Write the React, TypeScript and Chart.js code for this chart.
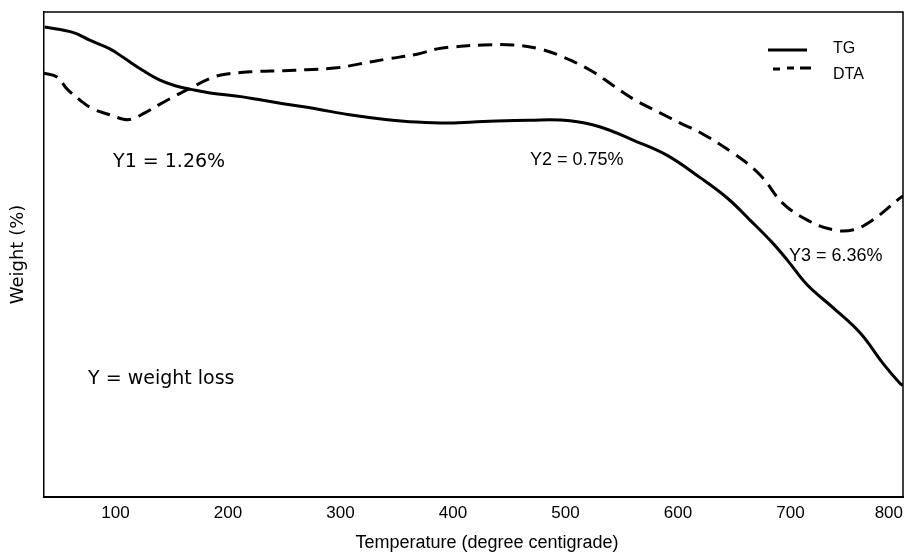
import React, { useEffect, useRef } from "react";
import { Chart, registerables } from "chart.js";

Chart.register(...registerables);

// TG curve (solid): temperature (°C) and relative weight
const tgTemp = [37, 62, 77, 95, 107, 124, 139, 153, 168, 184, 213, 226, 249, 279, 308, 338, 368, 397, 427, 468, 504, 531, 560, 590, 620, 644, 664, 684, 697, 715, 738, 762, 782, 797, 800];
const tgWeight = [96.9, 95.8, 94.2, 92.4, 90.6, 88.0, 86.0, 84.8, 84.0, 83.3, 82.5, 82.0, 81.1, 80.0, 78.8, 77.9, 77.3, 77.1, 77.4, 77.7, 77.6, 76.3, 73.6, 70.5, 65.8, 61.6, 57.1, 52.4, 48.9, 43.7, 39.0, 33.8, 27.6, 23.5, 23.0];

// DTA curve (dashed)
const dtaTemp = [36.5, 48, 57, 68, 80, 95, 107, 114, 126, 138, 153, 168, 184, 196, 222, 249, 270, 297, 317, 341, 368, 386, 400, 427, 453, 477, 498, 522, 542, 560, 584, 602, 620, 649, 673, 693, 715, 738, 756, 773, 795, 800];
const dtaSignal = [87.4, 86.6, 84.1, 81.9, 80.0, 78.8, 77.9, 77.9, 79.2, 80.8, 82.7, 84.5, 86.3, 87.1, 87.7, 87.9, 88.1, 88.5, 89.3, 90.3, 91.3, 92.4, 92.8, 93.2, 93.2, 92.4, 90.7, 88.0, 84.9, 82.1, 79.2, 77.1, 75.1, 70.9, 66.4, 60.6, 57.1, 55.1, 55.1, 57.1, 61.2, 62.1];

const xTicks = [100, 200, 300, 400, 500, 600, 700, 800];
const xMin = 36.4;
const xMax = 800;

const xTitle = "Temperature (degree centigrade)";
const yTitle = "Weight (%)";

const notes = [
  { text: "Y1 = 1.26%", t: 97.8, w: 69.1, font: '19px "DejaVu Sans"' },
  { text: "Y2 = 0.75%", t: 468.4, w: 69.5, font: '18px "Liberation Sans"' },
  { text: "Y3 = 6.36%", t: 698.7, w: 49.7, font: '18px "Liberation Sans"' },
  { text: "Y = weight loss", t: 75.6, w: 24.3, font: '19px "DejaVu Sans"' },
];

export default function App() {
  const ref = useRef<HTMLCanvasElement>(null);

  useEffect(() => {
    document.body.style.margin = "0";
    const canvas = ref.current;
    if (!canvas) return;

    const overlay = {
      id: "overlay",
      afterDraw(chart: any) {
        const { ctx, chartArea } = chart;
        const { left, right, top, bottom } = chartArea;
        const xs = chart.scales.x;
        const ys = chart.scales.y;
        ctx.save();
        // frame top and right
        ctx.strokeStyle = "#000";
        ctx.lineWidth = 1.5;
        ctx.beginPath();
        ctx.moveTo(left, top);
        ctx.lineTo(right, top);
        ctx.lineTo(right, bottom);
        ctx.stroke();

        // annotations
        ctx.fillStyle = "#000";
        ctx.textBaseline = "middle";
        ctx.textAlign = "left";
        for (const n of notes) {
          ctx.font = n.font;
          ctx.fillText(n.text, xs.getPixelForValue(n.t), ys.getPixelForValue(n.w));
        }

        // legend
        const ds = chart.data.datasets;
        ctx.font = '16px "Liberation Sans"';
        ctx.lineWidth = 3;
        ctx.setLineDash([]);
        ctx.beginPath();
        ctx.moveTo(768, 50);
        ctx.lineTo(807, 50);
        ctx.stroke();
        ctx.fillText(ds[0].label, 833, 49);
        ctx.beginPath();
        ctx.moveTo(773, 69);
        ctx.lineTo(780, 69);
        ctx.moveTo(787, 68);
        ctx.lineTo(794, 68);
        ctx.moveTo(800, 68);
        ctx.lineTo(811, 68);
        ctx.stroke();
        ctx.fillText(ds[1].label, 833, 75);

        // axis titles
        ctx.textAlign = "center";
        ctx.font = '18px "Liberation Sans"';
        ctx.fillText(xTitle, 487, 543);
        ctx.translate(18, (top + bottom) / 2);
        ctx.rotate(-Math.PI / 2);
        ctx.font = '18px "DejaVu Sans"';
        ctx.fillText(yTitle, 0, 0);
        ctx.restore();
      },
    };

    const chart = new Chart(canvas, {
      type: "line",
      data: {
        datasets: [
          {
            label: "TG",
            data: tgTemp.map((t, i) => ({ x: t, y: tgWeight[i] })),
            borderColor: "#000",
            borderWidth: 3,
            pointRadius: 0,
            fill: false,
            tension: 0.4,
          },
          {
            label: "DTA",
            data: dtaTemp.map((t, i) => ({ x: t, y: dtaSignal[i] })),
            borderColor: "#000",
            borderWidth: 3,
            borderDash: [14, 8],
            pointRadius: 0,
            fill: false,
            tension: 0.4,
          },
        ],
      },
      options: {
        animation: false,
        responsive: false,
        maintainAspectRatio: false,
        layout: { padding: { top: 12, right: 2, left: 0, bottom: 0 } },
        plugins: { legend: { display: false }, tooltip: { enabled: false } },
        scales: {
          x: {
            type: "linear",
            min: xMin,
            max: xMax,
            afterBuildTicks: (s: any) => {
              s.ticks = [{ value: xMin }, ...xTicks.map((v) => ({ value: v }))];
            },
            ticks: {
              align: "inner",
              autoSkip: false,
              maxRotation: 0,
              padding: 6,
              color: "#000",
              font: { family: '"Liberation Sans"', size: 17 },
              callback: (v: any) => (xTicks.includes(Number(v)) ? String(v) : ""),
            },
            grid: { display: false, drawTicks: false },
            border: { display: true, color: "#000", width: 2 },
            afterFit: (s: any) => {
              s.height = 56;
              s.paddingLeft = 0;
              s.paddingRight = 0;
            },
          },
          y: {
            min: 0,
            max: 100,
            ticks: { display: false },
            grid: { display: false, drawTicks: false },
            border: { display: true, color: "#000", width: 1.5 },
            afterFit: (s: any) => {
              s.width = 44;
            },
          },
        },
      } as any,
      plugins: [overlay],
    });
    return () => chart.destroy();
  }, []);

  return (
    <div style={{ width: 905, height: 553 }}>
      <canvas ref={ref} width={905} height={553} style={{ display: "block" }} />
    </div>
  );
}
